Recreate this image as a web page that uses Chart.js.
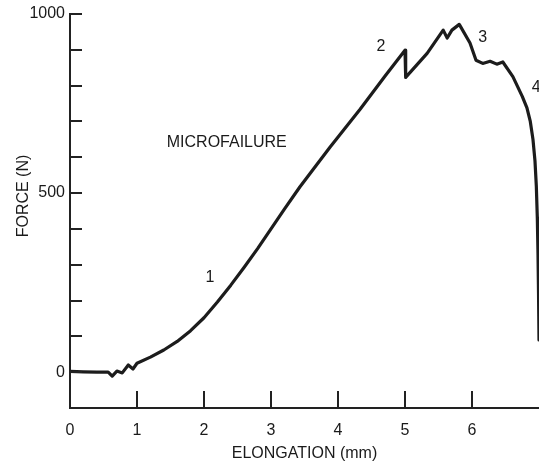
<!DOCTYPE html>
<html><head><meta charset="utf-8">
<script src="https://cdn.jsdelivr.net/npm/chart.js@4"></script>
<style>html,body{margin:0;padding:0;background:#fff;} canvas{display:block;}</style>
</head><body>
<canvas id="c" width="539" height="470"></canvas>
<script>
// ---- data ----
const elongation = [0.00, 0.20, 0.40, 0.57, 0.63, 0.70, 0.78, 0.87, 0.94, 1.00, 1.20, 1.40, 1.60, 1.80, 2.00, 2.20, 2.40, 2.60, 2.80, 3.00, 3.20, 3.43, 3.88, 4.33, 4.70, 5.00, 5.01, 5.33, 5.57, 5.63, 5.70, 5.81, 5.97, 6.06, 6.16, 6.27, 6.37, 6.46, 6.61, 6.75, 6.82, 6.87, 6.91, 6.94, 6.96, 6.975, 6.985, 6.993, 7.00];
const force      = [2,    1,    0,    0,    -11,  3,    -2,   20,   9,    25,   42,   62,   86,   116,  152,  196,  243,  293,  345,  400,  455,  517,  628,  734,  826,  899,  823,  890,  955,  933,  955,  971,  919,  871,  862,  868,  860,  866,  825,  770,  738,  700,  650,  590,  520,  430,  330,  220,  90];
const xLabelValues = [0, 1, 2, 3, 4, 5, 6];
const xTickValues = [1, 2, 3, 4, 5, 6];
const yLabelValues = [0, 500, 1000];
const yTickValues = [0, 100, 200, 300, 400, 500, 600, 700, 800, 900, 1000];
const annotationText = ['MICROFAILURE', '1', '2', '3', '4'];
const annotationX = [2.34, 2.09, 4.64, 6.16, 6.89];
const annotationY = [641, 263, 910, 935, 795];
const xTitle = 'ELONGATION (mm)';
const yTitle = 'FORCE (N)';

const FONT = "'Liberation Sans',Arial,Helvetica,sans-serif";
const INK = '#1a1a1a';

const decorPlugin = {
  id: 'decor',
  afterDraw(chart) {
    const {ctx, chartArea, scales: {x, y}} = chart;
    ctx.save();
    ctx.strokeStyle = '#222';
    ctx.lineWidth = 2;
    xTickValues.forEach(v => {
      const px = Math.round(x.getPixelForValue(v));
      ctx.beginPath(); ctx.moveTo(px, chartArea.bottom); ctx.lineTo(px, chartArea.bottom - 17); ctx.stroke();
    });
    yTickValues.forEach(v => {
      const py = Math.round(y.getPixelForValue(v));
      ctx.beginPath(); ctx.moveTo(chartArea.left, py); ctx.lineTo(chartArea.left + 12, py); ctx.stroke();
    });
    ctx.fillStyle = INK;
    ctx.font = '16px ' + FONT;
    ctx.textBaseline = 'middle';
    annotationText.forEach((t, i) => {
      ctx.textAlign = t === '4' ? 'left' : 'center';
      ctx.fillText(t, x.getPixelForValue(annotationX[i]), y.getPixelForValue(annotationY[i]));
    });
    ctx.translate(24, 196);
    ctx.rotate(-Math.PI / 2);
    ctx.textAlign = 'center';
    ctx.fillText(yTitle, 0, 0);
    ctx.restore();
  }
};

new Chart(document.getElementById('c').getContext('2d'), {
  type: 'scatter',
  data: {
    datasets: [{
      data: elongation.map((v, i) => ({x: v, y: force[i]})),
      showLine: true,
      borderColor: '#1c1c1c',
      borderWidth: 3.2,
      pointRadius: 0,
      tension: 0,
      fill: false,
      borderJoinStyle: 'round',
      borderCapStyle: 'round'
    }]
  },
  options: {
    responsive: false,
    animation: false,
    devicePixelRatio: 1,
    layout: {padding: {top: 14, right: 0, bottom: 0, left: 0}},
    plugins: {legend: {display: false}, tooltip: {enabled: false}},
    scales: {
      x: {
        type: 'linear', min: 0, max: 7,
        afterBuildTicks(s) { s.ticks = xLabelValues.map(v => ({value: v})); },
        afterFit(s) { s.height = 62; s.paddingLeft = 0; s.paddingRight = 0; },
        ticks: {padding: 13, color: INK, font: {family: FONT, size: 16}, maxRotation: 0, autoSkip: false, callback: v => String(v)},
        grid: {drawOnChartArea: false, drawTicks: false},
        border: {display: true, color: '#222', width: 2},
        title: {display: true, text: xTitle, color: INK, font: {family: FONT, size: 16}, padding: {top: 0, bottom: 7}}
      },
      y: {
        type: 'linear', min: -100, max: 1000,
        afterBuildTicks(s) { s.ticks = yLabelValues.map(v => ({value: v})); },
        afterFit(s) { s.width = 70; s.paddingTop = 0; s.paddingBottom = 0; },
        ticks: {padding: 5, color: INK, font: {family: FONT, size: 16}, autoSkip: false, callback: v => String(v)},
        grid: {drawOnChartArea: false, drawTicks: false},
        border: {display: true, color: '#222', width: 2}
      }
    }
  },
  plugins: [decorPlugin]
});
</script>
</body></html>
